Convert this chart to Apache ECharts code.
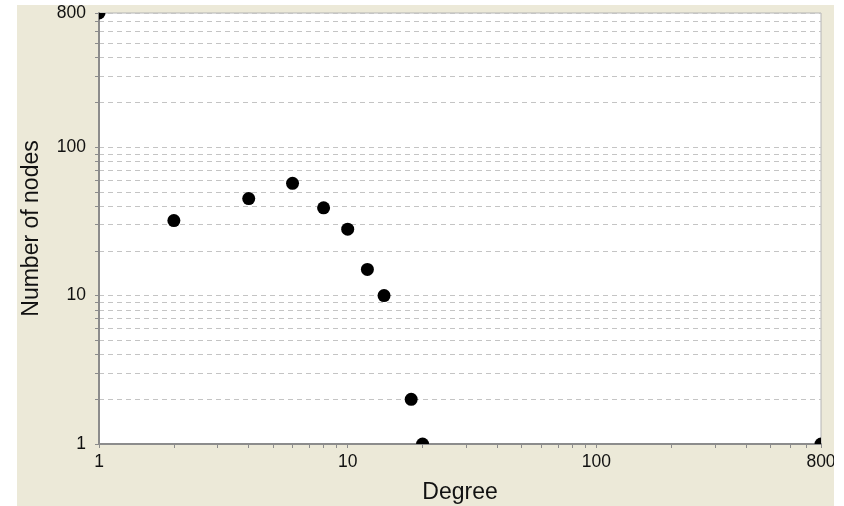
<!DOCTYPE html>
<html>
<head>
<meta charset="utf-8">
<script src="https://cdn.jsdelivr.net/npm/echarts@6/dist/echarts.min.js"></script>
<style>
html, body { margin: 0; padding: 0; background: #fff; }
#chart { position: absolute; left: 17px; top: 5px; width: 817px; height: 501px; }
</style>
</head>
<body>
<div id="chart"></div>
<script>
// degree distribution, log-log
var degree = [1, 2, 4, 6, 8, 10, 12, 14, 18, 20, 800];
var nodes = [800, 32, 45, 57, 39, 28, 15, 10, 2, 1, 1];

// tick marks at 1..9 of every decade, labels only at the decades and the max
var tickValues = [1, 2, 3, 4, 5, 6, 7, 8, 9,
    10, 20, 30, 40, 50, 60, 70, 80, 90,
    100, 200, 300, 400, 500, 600, 700, 800];
var labelValues = [1, 10, 100, 800];

var points = degree.map(function (d, i) { return [d, nodes[i]]; });

var chart = echarts.init(document.getElementById('chart'));

var axisFont = { fontFamily: 'Liberation Sans', fontSize: 17.5, color: '#111' };
var nameFont = { fontFamily: 'Liberation Sans', fontSize: 23, color: '#111' };

chart.setOption({
    backgroundColor: '#ece9d8',
    animation: false,
    grid: {
        left: 82, top: 8, right: 13, bottom: 62,
        outerBoundsMode: 'none',
        containLabel: false,
        show: true,
        backgroundColor: '#fff',
        borderColor: '#b4b4b4',
        borderWidth: 1
    },
    xAxis: {
        type: 'log',
        logBase: 10,
        min: 1,
        max: 800,
        name: 'Degree',
        nameLocation: 'middle',
        nameGap: 37,
        nameTextStyle: nameFont,
        axisLine: { lineStyle: { color: '#8c8c8c', width: 2 } },
        axisTick: { show: true, length: 4, customValues: tickValues, lineStyle: { color: '#8c8c8c' } },
        axisLabel: Object.assign({ customValues: labelValues, margin: 9 }, axisFont),
        splitLine: { show: false }
    },
    yAxis: {
        type: 'log',
        logBase: 10,
        min: 1,
        max: 800,
        name: 'Number of nodes',
        nameLocation: 'middle',
        nameGap: 56,
        nameTextStyle: nameFont,
        axisLine: { show: true, lineStyle: { color: '#8c8c8c', width: 2 } },
        axisTick: { show: true, length: 4, customValues: tickValues, lineStyle: { color: '#8c8c8c' } },
        axisLabel: Object.assign({ customValues: labelValues, margin: 13 }, axisFont),
        splitLine: { show: true, lineStyle: { color: '#c4c4c4', type: [5, 4], width: 1 } }
    },
    series: [{
        type: 'custom',
        clip: true,
        data: points,
        encode: { x: 0, y: 1 },
        renderItem: function (params, api) {
            var p = api.coord([api.value(0), api.value(1)]);
            return {
                type: 'circle',
                shape: { cx: p[0], cy: p[1], r: 6.5 },
                style: { fill: '#000' }
            };
        }
    }]
});
</script>
</body>
</html>
